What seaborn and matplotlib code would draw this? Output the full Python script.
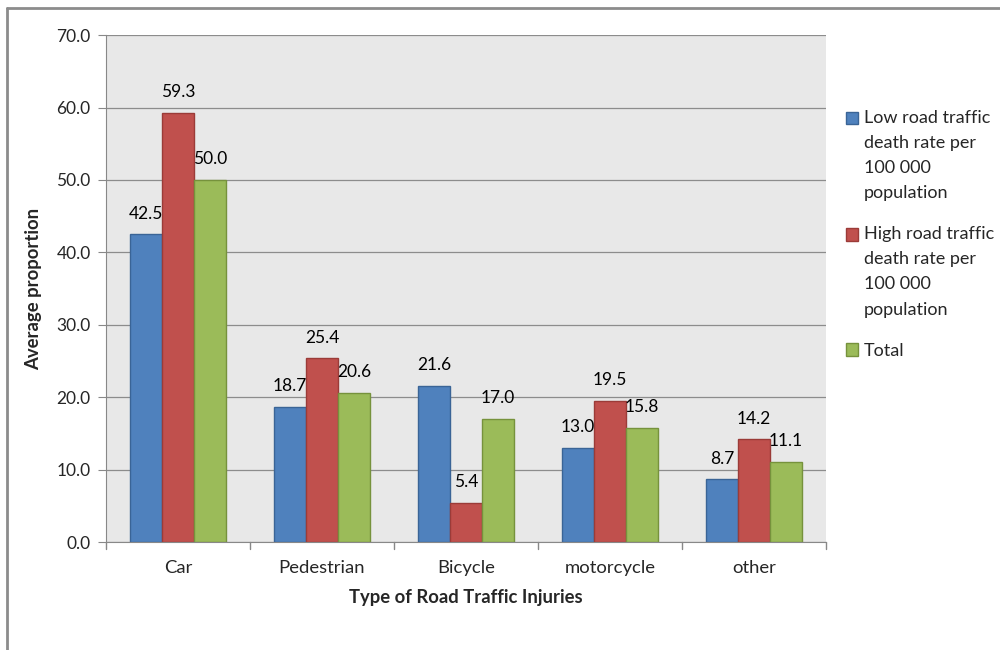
import numpy as np
import pandas as pd
import matplotlib.pyplot as plt
import seaborn as sns
from matplotlib.lines import Line2D

# veriler
turler = ["Car", "Pedestrian", "Bicycle", "motorcycle", "other"]
dusuk = [42.5, 18.7, 21.6, 13.0, 8.7]
yuksek = [59.3, 25.4, 5.4, 19.5, 14.2]
toplam = [50.0, 20.6, 17.0, 15.8, 11.1]
seriler = ["Low road traffic\ndeath rate per\n100 000\npopulation",
           "High road traffic\ndeath rate per\n100 000\npopulation",
           "Total"]
renkler = ["#4F81BD", "#C0504D", "#9BBB59"]
kenarlar = ["#3A6496", "#9B3B38", "#76923C"]

veri = pd.DataFrame({
    "tur": turler * 3,
    "seri": [seriler[0]] * 5 + [seriler[1]] * 5 + [seriler[2]] * 5,
    "deger": dusuk + yuksek + toplam,
})

sns.set_style("white")
plt.rcParams["font.family"] = ["Lato", "DejaVu Sans"]

fig = plt.figure(figsize=(10, 6.5), dpi=100)
ax = fig.add_axes([0.106, 0.166, 0.72, 0.78])
ax.set_facecolor("#E8E8E8")

sns.barplot(data=veri, x="tur", y="deger", hue="seri", palette=renkler,
            width=0.667, saturation=1, ax=ax, legend=True)

# kenar renkleri ve değer etiketleri
for i, c in enumerate(ax.containers):
    for p in c:
        p.set_edgecolor(kenarlar[i])
        p.set_linewidth(1)
    ax.bar_label(c, fmt="%.1f", padding=9, fontsize=12.5, color="#000000")

ax.set_ylim(0, 70)
ax.set_yticks(np.arange(0, 71, 10))
ax.set_yticklabels([f"{v:.1f}" for v in np.arange(0, 71, 10)], fontsize=12.5)
ax.set_xlim(-0.5, 4.5)
ax.set_xticks(range(5))
ax.set_xticklabels(turler, fontsize=13.3)
ax.tick_params(axis="x", length=0, pad=13)
ax.tick_params(axis="y", length=6, color="#888888", direction="out", pad=5, left=True)
ax.grid(axis="y", color="#8C8C8C", linewidth=0.9)
ax.set_axisbelow(True)

# kategori sınırlarındaki tikler
for xb in np.arange(-0.5, 4.6, 1):
    ax.plot([xb, xb], [0, -1.0], color="#888888", linewidth=1, clip_on=False)

for s in ["top", "right"]:
    ax.spines[s].set_visible(False)
ax.spines["left"].set_color("#888888")
ax.spines["bottom"].set_color("#888888")

ax.set_xlabel("Type of Road Traffic Injuries", fontsize=13.3, fontweight="bold", labelpad=9)
ax.set_ylabel("Average proportion", fontsize=13.3, fontweight="bold", labelpad=10)

leg = ax.legend(loc="upper left", bbox_to_anchor=(1.005, 0.885), frameon=False,
                fontsize=13, handlelength=0.7, handleheight=0.7, handletextpad=0.3,
                labelspacing=1.4)
for t in leg.get_texts():
    t.set_linespacing(1.7)
# işaretleri ilk satıra hizala
for h, ec, lab in zip(leg.legend_handles, kenarlar, seriler):
    h.set_edgecolor(ec)
    n = lab.count("\n")
    h.set_y(h.get_y() + n * 0.5 * 18.0)

# çerçeve (üst ve sol)
fig.add_artist(Line2D([0.007, 1.0], [0.988, 0.988], color="#8C8C8C", linewidth=2))
fig.add_artist(Line2D([0.007, 0.007], [0.0, 0.988], color="#8C8C8C", linewidth=2))

fig.savefig("out.png", dpi=100)
